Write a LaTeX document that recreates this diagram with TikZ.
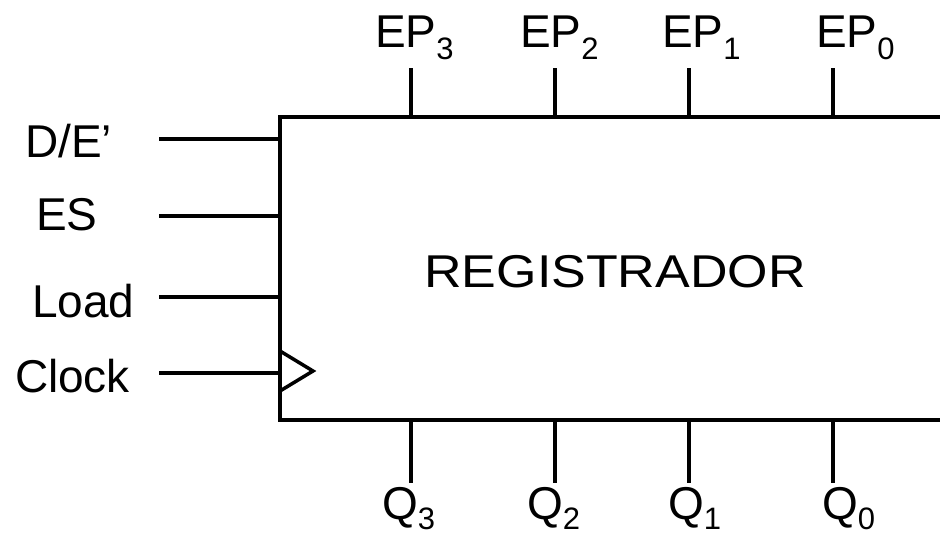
\documentclass[tikz,border=0pt]{standalone}
\usepackage{fontspec}
\setmainfont{Liberation Sans}
\usetikzlibrary{positioning}

\newcommand{\lowsub}[2][12pt]{\raisebox{-#1}{\fontsize{31}{31}\selectfont #2}}

\begin{document}
\begin{tikzpicture}[x=1pt, y=-1pt, line width=4pt,
  every node/.style={font=\fontsize{46}{50}\selectfont, inner sep=0pt, outer sep=0pt},
  regbox/.style={draw, line width=4pt, anchor=north west, minimum width=720pt, minimum height=303pt},
  sig/.style={anchor=base west}]
  \clip (0,0) rectangle (940,536);
  % register block (right side runs off the page)
  \node[regbox] (reg) at (280,117) {};
  \node (title) at (615,272) {\scalebox{1.13}[1]{REGISTRADOR}};
  % inputs on the left
  \node[sig] (lde) at (25,157) {D/E’};
  \node[sig] (les) at (36,230) {ES};
  \node[sig] (lld) at (32,317) {Load};
  \node[sig] (lck) at (15,392) {Clock};
  \coordinate (ide) at (159,139);
  \coordinate (ies) at (159,216);
  \coordinate (ild) at (159,297);
  \coordinate (ick) at (159,373);
  \foreach \p in {ide,ies,ild,ick}
    \draw (\p) -- (\p -| reg.west);
  % clock mark
  \draw[line width=3.5pt] (reg.west |- 0,351) -- (313,371) -- (reg.west |- 0,391);
  % parallel inputs on top, outputs below
  \foreach \n/\x/\lx in {3/411/375, 2/555/520, 1/689/662, 0/833/816} {
    \coordinate (ep\n) at (\x,68);
    \coordinate (q\n) at (\x,483);
    \draw (ep\n) -- (ep\n |- reg.north);
    \draw (q\n |- reg.south) -- (q\n);
    \node[sig] (lep\n) at (\lx,47) {EP\lowsub{\n}};
  }
  \foreach \n/\lx in {3/382, 2/527, 1/668, 0/822}
    \node[sig] (lq\n) at (\lx,519) {Q\lowsub[10pt]{\n}};
\end{tikzpicture}
\end{document}
